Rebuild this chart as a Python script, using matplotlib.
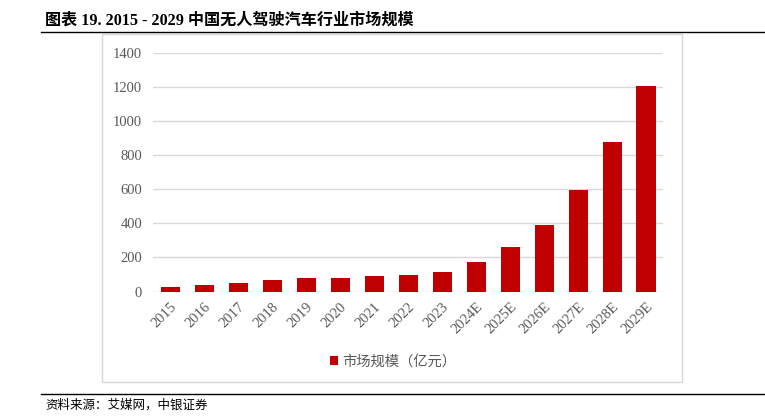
import matplotlib
matplotlib.use("Agg")
import matplotlib.pyplot as plt
from matplotlib.patches import Rectangle
from matplotlib.lines import Line2D

categories = ["2015", "2016", "2017", "2018", "2019", "2020", "2021", "2022", "2023",
              "2024E", "2025E", "2026E", "2027E", "2028E", "2029E"]
values = [27, 40, 50, 66, 80, 78, 90, 97, 115, 173, 264, 390, 595, 878, 1206]
yticks = [0, 200, 400, 600, 800, 1000, 1200, 1400]
title = "图表 19. 2015 - 2029 中国无人驾驶汽车行业市场规模"
legend_label = "市场规模（亿元）"
source = "资料来源：艾媒网，中银证券"

W, H = 765, 420
fig = plt.figure(figsize=(W / 100, H / 100), dpi=100)

def fx(x):
    return x / W

def fy(y):
    return 1 - y / H

serif = ["Liberation Serif", "Noto Serif CJK SC", "Noto Sans CJK SC"]
cjk = ["Noto Sans CJK SC", "DejaVu Sans"]

# header line and title
fig.add_artist(Line2D([fx(41), fx(765)], [fy(31.5), fy(31.5)], color="black", lw=1.0))
fig.text(fx(45), fy(20.5), title, ha="left", va="center", fontsize=11.6, fontweight="bold",
         family=["Liberation Serif", "Noto Sans CJK SC"], color="black")

# chart box
fig.add_artist(Rectangle((fx(102), fy(382)), fx(682) - fx(102), fy(34) - fy(382),
                         fill=False, edgecolor="#D9D9D9", lw=1.0))

# bottom line and source
fig.add_artist(Line2D([fx(41), fx(765)], [fy(393.5), fy(393.5)], color="black", lw=1.0))
fig.text(fx(45), fy(405), source, ha="left", va="center", fontsize=9, style="italic",
         family=cjk, color="black")

ax = fig.add_axes([fx(153.3), fy(291.6), fx(663) - fx(153.3), fy(52.7) - fy(291.6)])
x = range(len(categories))
ax.bar(x, values, width=0.56, color="#C00000", zorder=3, label=legend_label)
ax.set_xlim(-0.5, len(categories) - 0.5)
ax.set_ylim(0, 1400)
ax.set_yticks(yticks)
ax.set_yticklabels([str(v) for v in yticks], family=serif, fontsize=10.5, color="#595959")
ax.set_xticks(list(x))
ax.set_xticklabels(categories, rotation=45, ha="right", rotation_mode="anchor",
                   family=serif, fontsize=10.5, color="#595959")
ax.tick_params(axis="both", length=0, pad=8)
ax.tick_params(axis="x", pad=6)
ax.grid(axis="y", color="#D9D9D9", lw=1.0, zorder=0)
for s in ax.spines.values():
    s.set_visible(False)

leg = fig.legend(loc="center", bbox_to_anchor=(fx(393), fy(362)), frameon=False,
                 prop={"family": cjk, "size": 10.3}, handlelength=0.6, handleheight=0.6,
                 handletextpad=0.3)
for t in leg.get_texts():
    t.set_color("#595959")

fig.savefig("out.png", dpi=100)
